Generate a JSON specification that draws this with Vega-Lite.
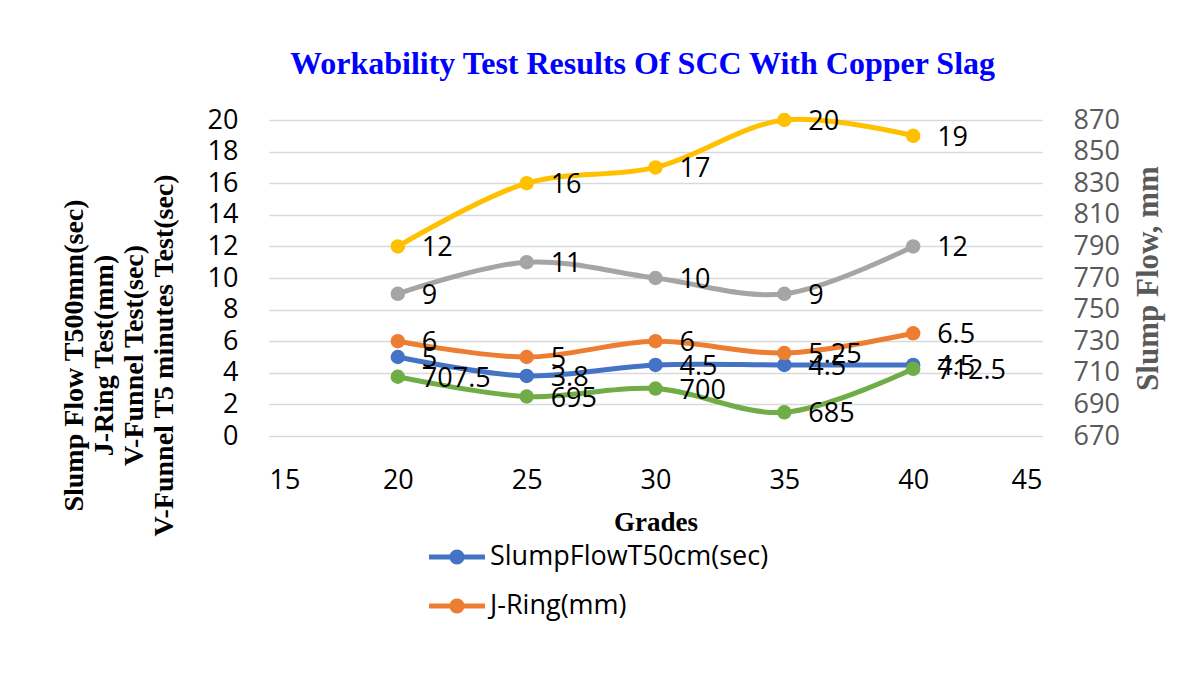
{
  "$schema": "https://vega.github.io/schema/vega-lite/v6.json",
  "autosize": {"type": "none"},
  "width": 773,
  "height": 316,
  "padding": {"left": 269, "top": 120, "right": 157, "bottom": 252},
  "background": "white",
  "title": {
    "text": "Workability Test Results Of SCC  With Copper Slag",
    "font": "Liberation Serif",
    "fontSize": 32,
    "fontWeight": "bold",
    "color": "#0000FF",
    "offset": 25,
    "dx": -13
  },
  "data": {
    "values": [
      {"grade": 20, "series": "SlumpFlowT50cm(sec)", "axis": "left", "value": 5},
      {"grade": 25, "series": "SlumpFlowT50cm(sec)", "axis": "left", "value": 3.8},
      {"grade": 30, "series": "SlumpFlowT50cm(sec)", "axis": "left", "value": 4.5},
      {"grade": 35, "series": "SlumpFlowT50cm(sec)", "axis": "left", "value": 4.5},
      {"grade": 40, "series": "SlumpFlowT50cm(sec)", "axis": "left", "value": 4.5},
      {"grade": 20, "series": "J-Ring(mm)", "axis": "left", "value": 6},
      {"grade": 25, "series": "J-Ring(mm)", "axis": "left", "value": 5},
      {"grade": 30, "series": "J-Ring(mm)", "axis": "left", "value": 6},
      {"grade": 35, "series": "J-Ring(mm)", "axis": "left", "value": 5.25},
      {"grade": 40, "series": "J-Ring(mm)", "axis": "left", "value": 6.5},
      {"grade": 20, "series": "V-Funnel(sec)", "axis": "left", "value": 9},
      {"grade": 25, "series": "V-Funnel(sec)", "axis": "left", "value": 11},
      {"grade": 30, "series": "V-Funnel(sec)", "axis": "left", "value": 10},
      {"grade": 35, "series": "V-Funnel(sec)", "axis": "left", "value": 9},
      {"grade": 40, "series": "V-Funnel(sec)", "axis": "left", "value": 12},
      {"grade": 20, "series": "V-Funnel T5min(sec)", "axis": "left", "value": 12},
      {"grade": 25, "series": "V-Funnel T5min(sec)", "axis": "left", "value": 16},
      {"grade": 30, "series": "V-Funnel T5min(sec)", "axis": "left", "value": 17},
      {"grade": 35, "series": "V-Funnel T5min(sec)", "axis": "left", "value": 20},
      {"grade": 40, "series": "V-Funnel T5min(sec)", "axis": "left", "value": 19},
      {"grade": 20, "series": "Slump Flow(mm)", "axis": "right", "value": 707.5},
      {"grade": 25, "series": "Slump Flow(mm)", "axis": "right", "value": 695},
      {"grade": 30, "series": "Slump Flow(mm)", "axis": "right", "value": 700},
      {"grade": 35, "series": "Slump Flow(mm)", "axis": "right", "value": 685},
      {"grade": 40, "series": "Slump Flow(mm)", "axis": "right", "value": 712.5}
    ]
  },
  "encoding": {
    "x": {
      "field": "grade",
      "type": "quantitative",
      "scale": {"domain": [15, 45], "nice": false, "zero": false},
      "axis": {
        "title": "Grades",
        "values": [15, 20, 25, 30, 35, 40, 45],
        "domain": false,
        "ticks": false,
        "grid": false,
        "labelFont": "Open Sans",
        "labelFontSize": 27,
        "labelColor": "#000000",
        "labelPadding": 31,
        "titleFont": "Liberation Serif",
        "titleFontSize": 27,
        "titleFontWeight": "bold",
        "titleColor": "#000000",
        "titleY": 94,
        "titleBaseline": "alphabetic"
      }
    },
    "color": {
      "field": "series",
      "type": "nominal",
      "scale": {
        "domain": ["SlumpFlowT50cm(sec)", "J-Ring(mm)", "V-Funnel(sec)", "V-Funnel T5min(sec)", "Slump Flow(mm)"],
        "range": ["#4472C4", "#ED7D31", "#A5A5A5", "#FFC000", "#70AD47"]
      },
      "legend": {
        "title": null,
        "orient": "none",
        "legendX": 163,
        "legendY": 412,
        "direction": "vertical",
        "values": ["SlumpFlowT50cm(sec)", "J-Ring(mm)"],
        "padding": 0,
        "rowPadding": 11,
        "labelFont": "Open Sans",
        "labelFontSize": 27,
        "labelColor": "#000000",
        "labelOffset": 8,
        "labelLimit": 500,
        "symbolType": "M-1.12,-0.1L1.12,-0.1L1.12,0.1L-1.12,0.1Z M0.3,0A0.3,0.3 0 1 1 -0.3,0A0.3,0.3 0 1 1 0.3,0Z",
        "symbolSize": 2500,
        "symbolStrokeWidth": 0,
        "symbolOpacity": 1,
        "encode": {
          "symbols": {
            "update": {
              "fill": {"scale": "color", "field": "value"},
              "stroke": {"value": "transparent"},
              "strokeWidth": {"value": 0}
            }
          }
        }
      }
    }
  },
  "layer": [
    {
      "transform": [{"filter": "datum.axis == 'left'"}],
      "encoding": {
        "y": {
          "field": "value",
          "type": "quantitative",
          "scale": {"domain": [0, 20], "nice": false},
          "axis": {
            "orient": "left",
            "title": ["Slump Flow  T500mm(sec)", "J-Ring Test(mm)", "V-Funnel Test(sec)", "V-Funnel T5 minutes Test(sec)"],
            "values": [0, 2, 4, 6, 8, 10, 12, 14, 16, 18, 20],
            "grid": true,
            "gridColor": "#D9D9D9",
            "gridWidth": 1.5,
            "domain": false,
            "ticks": false,
            "labelFont": "Open Sans",
            "labelFontSize": 27,
            "labelColor": "#000000",
            "labelPadding": 31,
            "titleFont": "Liberation Serif",
            "titleFontSize": 28,
            "titleFontWeight": "bold",
            "titleColor": "#000000",
            "titleLineHeight": 30,
            "titleAngle": 270,
            "titleAlign": "center",
            "titleBaseline": "bottom",
            "titleX": -181,
            "titleY": 235
          }
        }
      },
      "layer": [
        {"mark": {"type": "line", "strokeWidth": 5, "interpolate": "catmull-rom"}},
        {"mark": {"type": "point", "filled": true, "size": 210, "opacity": 1}},
        {
          "mark": {"type": "text", "font": "Open Sans", "fontSize": 27, "align": "left", "baseline": "middle", "dx": 24, "dy": 2, "color": "#000000"},
          "encoding": {"text": {"field": "value", "type": "quantitative"}, "color": {"value": "#000000"}}
        }
      ]
    },
    {
      "transform": [{"filter": "datum.axis == 'right'"}],
      "encoding": {
        "y": {
          "field": "value",
          "type": "quantitative",
          "scale": {"domain": [670, 870], "nice": false, "zero": false},
          "axis": {
            "orient": "right",
            "title": "Slump Flow, mm",
            "values": [670, 690, 710, 730, 750, 770, 790, 810, 830, 850, 870],
            "grid": false,
            "domain": false,
            "ticks": false,
            "labelFont": "Open Sans",
            "labelFontSize": 27,
            "labelColor": "#595959",
            "labelPadding": 31,
            "titleFont": "Liberation Serif",
            "titleFontSize": 31,
            "titleFontWeight": "bold",
            "titleColor": "#595959",
            "titleAngle": 270,
            "titleAlign": "center",
            "titleBaseline": "middle",
            "titleX": 106,
            "titleY": 158
          }
        }
      },
      "layer": [
        {"mark": {"type": "line", "strokeWidth": 5, "interpolate": "catmull-rom"}},
        {"mark": {"type": "point", "filled": true, "size": 210, "opacity": 1}},
        {
          "mark": {"type": "text", "font": "Open Sans", "fontSize": 27, "align": "left", "baseline": "middle", "dx": 24, "dy": 2, "color": "#000000"},
          "encoding": {"text": {"field": "value", "type": "quantitative"}, "color": {"value": "#000000"}}
        }
      ]
    }
  ],
  "resolve": {"scale": {"y": "independent"}},
  "config": {"view": {"stroke": null}}
}
